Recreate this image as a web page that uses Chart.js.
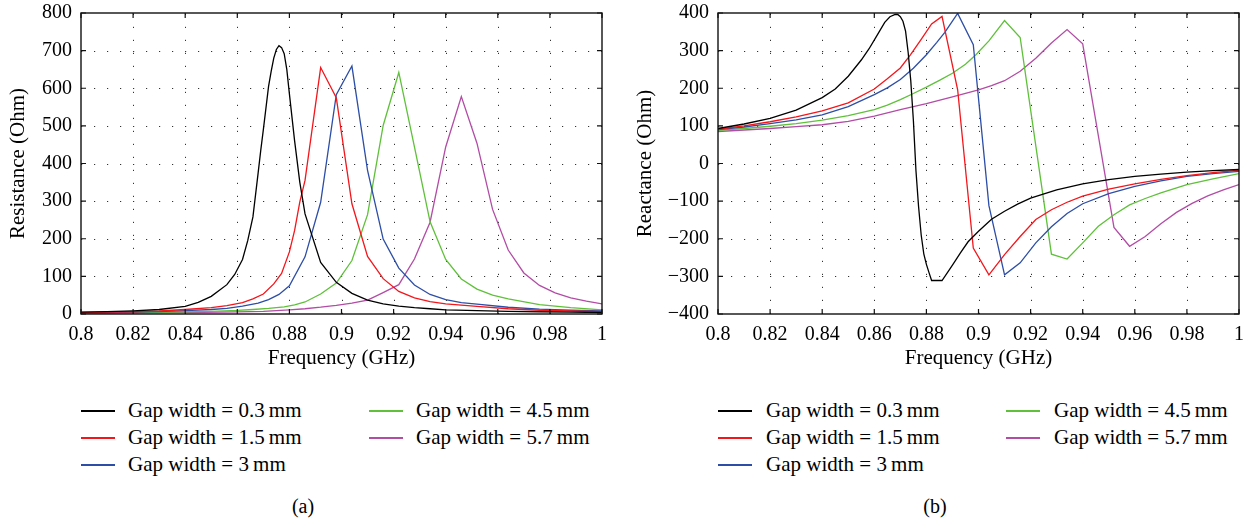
<!DOCTYPE html>
<html><head><meta charset="utf-8">
<script src="https://cdn.jsdelivr.net/npm/chart.js@4/dist/chart.umd.min.js"></script>
<style>
html,body{margin:0;padding:0;background:#fff;width:1255px;height:524px;overflow:hidden;font-family:"Liberation Serif",serif;color:#000;}
canvas{position:absolute;top:0;}
#c1{left:0;}
#c2{left:627px;}
.lt{position:absolute;font-size:21px;line-height:22px;white-space:nowrap;}
.ln{position:absolute;height:1.4px;}
.cap{position:absolute;font-size:20px;line-height:22px;white-space:nowrap;transform:translateX(-50%);}
</style></head><body>
<canvas id="c1" width="627" height="380"></canvas>
<canvas id="c2" width="628" height="380"></canvas>
<div id="legends"></div>
<script>
// ---------- DATA ----------
const seriesLabels = ['Gap width = 0.3\u2009mm','Gap width = 1.5\u2009mm','Gap width = 3\u2009mm','Gap width = 4.5\u2009mm','Gap width = 5.7\u2009mm'];
const seriesColors = ['#000000','#f3161b','#2d4ea6','#5fc03a','#b24ca5'];

const xTickValues = [0.8,0.82,0.84,0.86,0.88,0.9,0.92,0.94,0.96,0.98,1.0];
const xTickLabels = ['0.8','0.82','0.84','0.86','0.88','0.9','0.92','0.94','0.96','0.98','1'];
const resTickValues = [0,100,200,300,400,500,600,700,800];
const reaTickValues = [-400,-300,-200,-100,0,100,200,300,400];

// Resistance (Ohm)
const resF03 = [0.80,0.81,0.82,0.83,0.84,0.845,0.850,0.856,0.859,0.862,0.864,0.866,0.868,0.869,0.870,0.872,0.873,0.874,0.875,0.876,0.877,0.878,0.879,0.880,0.882,0.884,0.886,0.892,0.898,0.904,0.910,0.916,0.922,0.928,0.934,0.940,0.952,0.964,0.976,0.988,1.0];
const resV03 = [5,6.5,8.5,12,20,31,47,78,105,145,195,258,375,435,490,605,645,680,703,713,708,692,650,585,460,350,266,137,84,55,37,27,21,17,14,11,9,7,6,5,4];
const resF15 = [0.80,0.81,0.82,0.83,0.84,0.85,0.856,0.862,0.866,0.870,0.874,0.877,0.880,0.882,0.884,0.886,0.892,0.898,0.904,0.910,0.916,0.922,0.928,0.934,0.940,0.952,0.964,0.976,0.988,1.0];
const resV15 = [4,5,6,8,12,17,22,30,40,53,80,108,165,222,298,355,655,575,293,153,94,60,43,33,27,20,14,10,8,6];
const resF30 = [0.80,0.81,0.82,0.83,0.84,0.85,0.856,0.862,0.868,0.872,0.876,0.880,0.886,0.892,0.898,0.904,0.910,0.916,0.922,0.928,0.934,0.940,0.946,0.952,0.964,0.976,0.988,1.0];
const resV30 = [3.5,4,5,6.5,9,12,15,21,29,38,52,75,152,297,583,659,382,199,122,77,52,38,30,26,18,13,10,8];
const resF45 = [0.80,0.82,0.84,0.85,0.86,0.866,0.872,0.878,0.882,0.886,0.892,0.898,0.904,0.910,0.916,0.922,0.928,0.934,0.940,0.946,0.952,0.958,0.964,0.976,0.988,1.0];
const resV45 = [3,4,5.5,7,9.5,12,15,19,24,32,53,82,142,264,501,642,444,245,145,93,66,50,40,25,17,11];
const resF57 = [0.80,0.82,0.84,0.86,0.87,0.88,0.886,0.892,0.898,0.904,0.910,0.916,0.922,0.928,0.934,0.940,0.946,0.952,0.958,0.964,0.970,0.976,0.982,0.988,0.994,1.0];
const resV57 = [2,3,4,5.5,7,11,14,18,23,29,37,57,78,146,244,444,578,454,278,170,109,76,56,43,34,27];

// Reactance (Ohm)
const reaF03 = [0.80,0.81,0.82,0.83,0.84,0.845,0.850,0.855,0.858,0.861,0.864,0.866,0.868,0.869,0.870,0.871,0.872,0.873,0.874,0.875,0.876,0.877,0.878,0.879,0.880,0.881,0.882,0.886,0.890,0.893,0.896,0.900,0.905,0.910,0.915,0.920,0.930,0.940,0.950,0.960,0.970,0.980,0.990,1.0];
const reaV03 = [93,105,120,142,175,198,232,275,305,340,375,390,396,396,390,378,352,295,220,115,-20,-115,-190,-240,-268,-290,-311,-311,-270,-238,-208,-180,-148,-127,-108,-92,-70,-54,-43,-34,-28,-23,-19,-16];
const reaF15 = [0.80,0.81,0.82,0.83,0.84,0.85,0.86,0.865,0.870,0.874,0.878,0.882,0.886,0.892,0.898,0.904,0.910,0.916,0.922,0.928,0.934,0.940,0.950,0.960,0.970,0.980,0.990,1.0];
const reaV15 = [91,100,111,124,140,161,198,225,254,290,330,371,391,196,-225,-296,-242,-194,-149,-123,-103,-87,-68,-54,-42,-32,-24,-18];
const reaF30 = [0.80,0.81,0.82,0.83,0.84,0.85,0.86,0.865,0.870,0.875,0.880,0.884,0.887,0.892,0.898,0.904,0.910,0.916,0.922,0.928,0.934,0.940,0.950,0.960,0.970,0.980,0.990,1.0];
const reaV30 = [90,97,106,116,129,151,183,201,223,253,289,322,348,399,316,-112,-296,-264,-211,-168,-133,-107,-80,-61,-46,-34,-27,-21];
const reaF45 = [0.80,0.81,0.82,0.83,0.84,0.85,0.86,0.865,0.870,0.875,0.880,0.885,0.890,0.895,0.899,0.904,0.910,0.916,0.922,0.928,0.934,0.940,0.946,0.952,0.958,0.964,0.970,0.980,0.990,1.0];
const reaV45 = [88,93,99,106,115,127,143,155,170,186,203,221,240,264,289,326,380,335,47,-241,-254,-211,-167,-136,-110,-93,-78,-56,-41,-27];
const reaF57 = [0.80,0.81,0.82,0.83,0.84,0.85,0.86,0.87,0.88,0.89,0.90,0.905,0.910,0.916,0.922,0.928,0.934,0.940,0.946,0.952,0.958,0.964,0.970,0.976,0.982,0.988,0.994,1.0];
const reaV57 = [85,89,93,98,103,112,126,143,159,177,196,207,220,245,280,320,356,318,74,-170,-220,-194,-160,-130,-106,-86,-70,-56];

// ---------- BUILD ----------
const FONT = '"Liberation Serif", serif';
Chart.defaults.font.family = FONT;
function pts(f, v){ return f.map((x,i)=>({x:x, y:v[i]})); }
function makeSets(fs, vs){
  return fs.map((f,i)=>({label:seriesLabels[i], data:pts(f,vs[i]), borderColor:seriesColors[i], backgroundColor:seriesColors[i], borderWidth:1.3, pointRadius:0, tension:0, fill:false}));
}
const matlabAxes = {
  id:'matlabAxes',
  beforeDatasetsDraw(chart){
    const {ctx, chartArea:a, scales:{x,y}} = chart;
    ctx.save();
    ctx.strokeStyle = 'rgba(0,0,0,0.8)';
    ctx.lineWidth = 1;
    ctx.setLineDash([1.2, 11.8]);
    x.ticks.forEach(t=>{
      if (t.value<=x.min || t.value>=x.max) return;
      const px = Math.round(x.getPixelForValue(t.value))+0.5;
      ctx.beginPath(); ctx.moveTo(px, a.bottom); ctx.lineTo(px, a.top); ctx.stroke();
    });
    y.ticks.forEach(t=>{
      if (t.value<=y.min || t.value>=y.max) return;
      const py = Math.round(y.getPixelForValue(t.value))+0.5;
      ctx.beginPath(); ctx.moveTo(a.left, py); ctx.lineTo(a.right, py); ctx.stroke();
    });
    ctx.restore();
  },
  afterDatasetsDraw(chart){
    const {ctx, chartArea:a, scales:{x,y}} = chart;
    ctx.save();
    ctx.strokeStyle = '#111';
    ctx.lineWidth = 1.4;
    ctx.setLineDash([]);
    ctx.strokeRect(a.left, a.top, a.right-a.left, a.bottom-a.top);
    ctx.lineWidth = 1.2;
    const L = 5;
    ctx.beginPath();
    x.ticks.forEach(t=>{
      const px = x.getPixelForValue(t.value);
      ctx.moveTo(px, a.bottom); ctx.lineTo(px, a.bottom-L);
      ctx.moveTo(px, a.top); ctx.lineTo(px, a.top+L);
    });
    y.ticks.forEach(t=>{
      const py = y.getPixelForValue(t.value);
      ctx.moveTo(a.left, py); ctx.lineTo(a.left+L, py);
      ctx.moveTo(a.right, py); ctx.lineTo(a.right-L, py);
    });
    ctx.stroke();
    ctx.restore();
  }
};
function makeChart(id, datasets, yTicks, yTitle, yAxisW, padRight){
  return new Chart(document.getElementById(id), {
    type:'line',
    data:{datasets},
    options:{
      responsive:false, animation:false, devicePixelRatio:1,
      layout:{padding:{left:0,right:padRight,top:13,bottom:0}},
      plugins:{legend:{display:false}, tooltip:{enabled:false}},
      scales:{
        x:{type:'linear', min:0.8, max:1.0,
          afterBuildTicks:s=>{s.ticks = xTickValues.map(v=>({value:v}));},
          ticks:{callback:(v,i)=>xTickLabels[i], autoSkip:false, maxRotation:0, padding:9, color:'#000', font:{family:FONT,size:20}},
          grid:{display:false, drawTicks:false}, border:{display:false},
          title:{display:true, text:'Frequency (GHz)', color:'#000', font:{family:FONT,size:21}, padding:{top:0,bottom:9}},
          afterFit:s=>{s.height=66; s.paddingLeft=0; s.paddingRight=0;}
        },
        y:{type:'linear', min:yTicks[0], max:yTicks[yTicks.length-1],
          afterBuildTicks:s=>{s.ticks = yTicks.map(v=>({value:v}));},
          ticks:{callback:(v)=>String(v).replace('-','\u2212'), autoSkip:false, padding:9, color:'#000', font:{family:FONT,size:20}},
          grid:{display:false, drawTicks:false}, border:{display:false},
          title:{display:true, text:yTitle, color:'#000', font:{family:FONT,size:21}, padding:{top:6,bottom:0}},
          afterFit:s=>{s.width=yAxisW; s.paddingTop=0; s.paddingBottom=0;}
        }
      }
    },
    plugins:[matlabAxes]
  });
}
makeChart('c1', makeSets([resF03,resF15,resF30,resF45,resF57],[resV03,resV15,resV30,resV45,resV57]), resTickValues, 'Resistance (Ohm)', 81, 25);
makeChart('c2', makeSets([reaF03,reaF15,reaF30,reaF45,reaF57],[reaV03,reaV15,reaV30,reaV45,reaV57]), reaTickValues, 'Reactance (Ohm)', 91, 16);

// ---------- LEGENDS ----------
const legendBoxes = [
  {cols:[81,369], lineLen:34, textGap:13, rows:[411,438,465], cap:'(a)', capX:303},
  {cols:[718,1006], lineLen:34, textGap:14, rows:[411,438,465], cap:'(b)', capX:935}
];
const host = document.getElementById('legends');
legendBoxes.forEach(b=>{
  seriesLabels.forEach((lab,i)=>{
    const col = i<3 ? 0 : 1, row = i<3 ? i : i-3;
    const x0 = b.cols[col], yc = b.rows[row];
    const ln = document.createElement('div');
    ln.className='ln'; ln.style.left=x0+'px'; ln.style.top=(yc-0.7)+'px'; ln.style.width=b.lineLen+'px'; ln.style.backgroundColor=seriesColors[i];
    host.appendChild(ln);
    const t = document.createElement('div');
    t.className='lt'; t.textContent=lab; t.style.left=(x0+b.lineLen+b.textGap)+'px'; t.style.top=(yc-12)+'px';
    host.appendChild(t);
  });
  const c = document.createElement('div');
  c.className='cap'; c.textContent=b.cap; c.style.left=b.capX+'px'; c.style.top='495px';
  host.appendChild(c);
});
</script>
</body></html>
